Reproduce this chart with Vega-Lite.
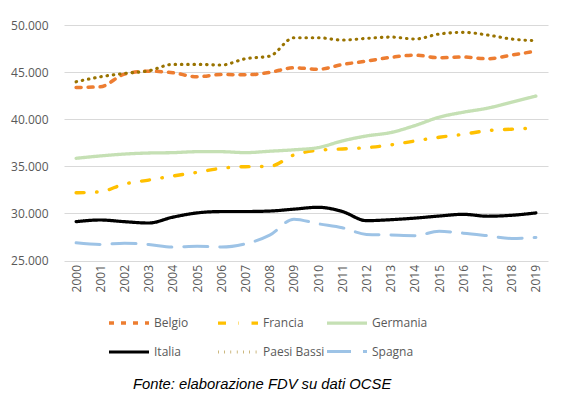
{
  "$schema": "https://vega.github.io/schema/vega-lite/v6.json",
  "width": 484,
  "height": 235.5,
  "autosize": "none",
  "padding": {"left": 64, "top": 25, "right": 15, "bottom": 141.5},
  "background": "white",
  "title": {
    "text": "Fonte: elaborazione FDV su dati OCSE",
    "orient": "bottom",
    "anchor": "start",
    "frame": "group",
    "dx": 69,
    "offset": 18,
    "font": "Liberation Sans",
    "fontSize": 14.8,
    "fontStyle": "italic",
    "fontWeight": "normal",
    "color": "#000000"
  },
  "config": {
    "view": {"stroke": null},
    "font": "Open Sans",
    "legend": {"padding": 0}
  },
  "data": {
    "values": [
      {"year": "2000", "country": "Belgio", "value": 43370},
      {"year": "2001", "country": "Belgio", "value": 43440},
      {"year": "2002", "country": "Belgio", "value": 44790},
      {"year": "2003", "country": "Belgio", "value": 45100},
      {"year": "2004", "country": "Belgio", "value": 44930},
      {"year": "2005", "country": "Belgio", "value": 44500},
      {"year": "2006", "country": "Belgio", "value": 44750},
      {"year": "2007", "country": "Belgio", "value": 44710},
      {"year": "2008", "country": "Belgio", "value": 44960},
      {"year": "2009", "country": "Belgio", "value": 45460},
      {"year": "2010", "country": "Belgio", "value": 45300},
      {"year": "2011", "country": "Belgio", "value": 45800},
      {"year": "2012", "country": "Belgio", "value": 46170},
      {"year": "2013", "country": "Belgio", "value": 46560},
      {"year": "2014", "country": "Belgio", "value": 46800},
      {"year": "2015", "country": "Belgio", "value": 46520},
      {"year": "2016", "country": "Belgio", "value": 46600},
      {"year": "2017", "country": "Belgio", "value": 46420},
      {"year": "2018", "country": "Belgio", "value": 46800},
      {"year": "2019", "country": "Belgio", "value": 47230},
      {"year": "2000", "country": "Francia", "value": 32190},
      {"year": "2001", "country": "Francia", "value": 32300},
      {"year": "2002", "country": "Francia", "value": 33120},
      {"year": "2003", "country": "Francia", "value": 33540},
      {"year": "2004", "country": "Francia", "value": 33970},
      {"year": "2005", "country": "Francia", "value": 34360},
      {"year": "2006", "country": "Francia", "value": 34790},
      {"year": "2007", "country": "Francia", "value": 34960},
      {"year": "2008", "country": "Francia", "value": 34990},
      {"year": "2009", "country": "Francia", "value": 36200},
      {"year": "2010", "country": "Francia", "value": 36700},
      {"year": "2011", "country": "Francia", "value": 36840},
      {"year": "2012", "country": "Francia", "value": 36980},
      {"year": "2013", "country": "Francia", "value": 37270},
      {"year": "2014", "country": "Francia", "value": 37690},
      {"year": "2015", "country": "Francia", "value": 38080},
      {"year": "2016", "country": "Francia", "value": 38400},
      {"year": "2017", "country": "Francia", "value": 38790},
      {"year": "2018", "country": "Francia", "value": 38940},
      {"year": "2019", "country": "Francia", "value": 39070},
      {"year": "2000", "country": "Germania", "value": 35850},
      {"year": "2001", "country": "Germania", "value": 36100},
      {"year": "2002", "country": "Germania", "value": 36300},
      {"year": "2003", "country": "Germania", "value": 36410},
      {"year": "2004", "country": "Germania", "value": 36450},
      {"year": "2005", "country": "Germania", "value": 36550},
      {"year": "2006", "country": "Germania", "value": 36550},
      {"year": "2007", "country": "Germania", "value": 36450},
      {"year": "2008", "country": "Germania", "value": 36600},
      {"year": "2009", "country": "Germania", "value": 36750},
      {"year": "2010", "country": "Germania", "value": 36980},
      {"year": "2011", "country": "Germania", "value": 37690},
      {"year": "2012", "country": "Germania", "value": 38220},
      {"year": "2013", "country": "Germania", "value": 38580},
      {"year": "2014", "country": "Germania", "value": 39320},
      {"year": "2015", "country": "Germania", "value": 40210},
      {"year": "2016", "country": "Germania", "value": 40740},
      {"year": "2017", "country": "Germania", "value": 41170},
      {"year": "2018", "country": "Germania", "value": 41810},
      {"year": "2019", "country": "Germania", "value": 42450},
      {"year": "2000", "country": "Italia", "value": 29120},
      {"year": "2001", "country": "Italia", "value": 29300},
      {"year": "2002", "country": "Italia", "value": 29120},
      {"year": "2003", "country": "Italia", "value": 28980},
      {"year": "2004", "country": "Italia", "value": 29600},
      {"year": "2005", "country": "Italia", "value": 30050},
      {"year": "2006", "country": "Italia", "value": 30200},
      {"year": "2007", "country": "Italia", "value": 30200},
      {"year": "2008", "country": "Italia", "value": 30250},
      {"year": "2009", "country": "Italia", "value": 30450},
      {"year": "2010", "country": "Italia", "value": 30650},
      {"year": "2011", "country": "Italia", "value": 30200},
      {"year": "2012", "country": "Italia", "value": 29230},
      {"year": "2013", "country": "Italia", "value": 29330},
      {"year": "2014", "country": "Italia", "value": 29500},
      {"year": "2015", "country": "Italia", "value": 29720},
      {"year": "2016", "country": "Italia", "value": 29900},
      {"year": "2017", "country": "Italia", "value": 29700},
      {"year": "2018", "country": "Italia", "value": 29800},
      {"year": "2019", "country": "Italia", "value": 30050},
      {"year": "2000", "country": "Paesi Bassi", "value": 43970},
      {"year": "2001", "country": "Paesi Bassi", "value": 44500},
      {"year": "2002", "country": "Paesi Bassi", "value": 44860},
      {"year": "2003", "country": "Paesi Bassi", "value": 45140},
      {"year": "2004", "country": "Paesi Bassi", "value": 45820},
      {"year": "2005", "country": "Paesi Bassi", "value": 45820},
      {"year": "2006", "country": "Paesi Bassi", "value": 45750},
      {"year": "2007", "country": "Paesi Bassi", "value": 46420},
      {"year": "2008", "country": "Paesi Bassi", "value": 46700},
      {"year": "2009", "country": "Paesi Bassi", "value": 48650},
      {"year": "2010", "country": "Paesi Bassi", "value": 48650},
      {"year": "2011", "country": "Paesi Bassi", "value": 48400},
      {"year": "2012", "country": "Paesi Bassi", "value": 48580},
      {"year": "2013", "country": "Paesi Bassi", "value": 48720},
      {"year": "2014", "country": "Paesi Bassi", "value": 48510},
      {"year": "2015", "country": "Paesi Bassi", "value": 49040},
      {"year": "2016", "country": "Paesi Bassi", "value": 49220},
      {"year": "2017", "country": "Paesi Bassi", "value": 48940},
      {"year": "2018", "country": "Paesi Bassi", "value": 48510},
      {"year": "2019", "country": "Paesi Bassi", "value": 48330},
      {"year": "2000", "country": "Spagna", "value": 26880},
      {"year": "2001", "country": "Spagna", "value": 26700},
      {"year": "2002", "country": "Spagna", "value": 26840},
      {"year": "2003", "country": "Spagna", "value": 26700},
      {"year": "2004", "country": "Spagna", "value": 26420},
      {"year": "2005", "country": "Spagna", "value": 26520},
      {"year": "2006", "country": "Spagna", "value": 26420},
      {"year": "2007", "country": "Spagna", "value": 26770},
      {"year": "2008", "country": "Spagna", "value": 27690},
      {"year": "2009", "country": "Spagna", "value": 29390},
      {"year": "2010", "country": "Spagna", "value": 28900},
      {"year": "2011", "country": "Spagna", "value": 28480},
      {"year": "2012", "country": "Spagna", "value": 27770},
      {"year": "2013", "country": "Spagna", "value": 27700},
      {"year": "2014", "country": "Spagna", "value": 27630},
      {"year": "2015", "country": "Spagna", "value": 28100},
      {"year": "2016", "country": "Spagna", "value": 27900},
      {"year": "2017", "country": "Spagna", "value": 27630},
      {"year": "2018", "country": "Spagna", "value": 27340},
      {"year": "2019", "country": "Spagna", "value": 27450}
    ]
  },
  "mark": {"type": "line", "interpolate": "monotone", "strokeCap": "round"},
  "encoding": {
    "x": {
      "field": "year",
      "type": "ordinal",
      "scale": {"type": "point", "padding": 0.5},
      "axis": {
        "title": null,
        "labelAngle": -90,
        "labelFont": "Open Sans",
        "labelFontSize": 12,
        "labelColor": "#595959",
        "labelPadding": 4,
        "ticks": false,
        "domain": false,
        "grid": false
      }
    },
    "y": {
      "field": "value",
      "type": "quantitative",
      "scale": {"domain": [25000, 50000], "nice": false, "zero": false},
      "axis": {
        "title": null,
        "values": [25000, 30000, 35000, 40000, 45000, 50000],
        "labelExpr": "replace(format(datum.value, ','), ',', '.')",
        "labelFont": "Open Sans",
        "labelFontSize": 12,
        "labelColor": "#595959",
        "labelPadding": 16,
        "ticks": false,
        "domain": false,
        "grid": true,
        "gridColor": "#D9D9D9",
        "gridWidth": 1.2
      }
    },
    "color": {
      "field": "country",
      "type": "nominal",
      "scale": {
        "domain": ["Belgio", "Francia", "Germania", "Italia", "Paesi Bassi", "Spagna"],
        "range": ["#ED7D31", "#FFC000", "#C5E0B4", "#000000", "#997300", "#9DC3E6"]
      },
      "legend": {
        "title": null,
        "orient": "none",
        "direction": "horizontal",
        "legendX": 43,
        "legendY": 276,
        "columns": 3,
        "gridAlign": "all",
        "columnPadding": -9,
        "rowPadding": -16,
        "symbolType": "stroke",
        "symbolSize": 1600,
        "labelFont": "Open Sans",
        "labelFontSize": 12,
        "labelColor": "#595959",
        "labelOffset": 3
      }
    },
    "strokeDash": {
      "field": "country",
      "type": "nominal",
      "scale": {
        "domain": ["Belgio", "Francia", "Germania", "Italia", "Paesi Bassi", "Spagna"],
        "range": [[5, 7], [8, 12.5, 0.5, 12.5], [1, 0], [1, 0], [0.5, 5.8], [24, 12]]
      }
    },
    "strokeWidth": {
      "field": "country",
      "type": "nominal",
      "scale": {
        "domain": ["Belgio", "Francia", "Germania", "Italia", "Paesi Bassi", "Spagna"],
        "range": [3.5, 3, 6.5, 5, 1.9, 3]
      }
    }
  }
}
